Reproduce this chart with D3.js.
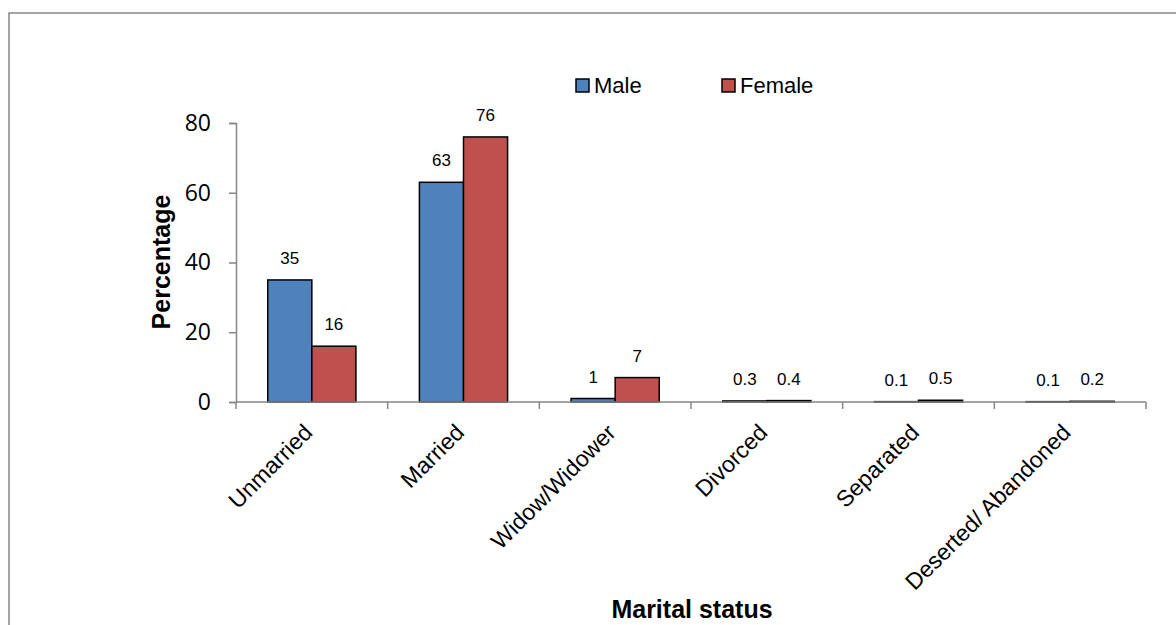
<!DOCTYPE html>
<html>
<head>
<meta charset="utf-8">
<script src="https://cdn.jsdelivr.net/npm/d3@7"></script>
<style>
  html, body { margin: 0; padding: 0; background: #fff; }
  svg { display: block; }
</style>
</head>
<body>
<svg id="chart" width="1176" height="625"></svg>
<script>
// Marital status distribution by sex (percent)
const categories = ["Unmarried", "Married", "Widow/Widower", "Divorced", "Separated", "Deserted/ Abandoned"];
const series = ["Male", "Female"];
const maleValues = [35, 63, 1, 0.3, 0.1, 0.1];
const femaleValues = [16, 76, 7, 0.4, 0.5, 0.2];
const yTicks = [0, 20, 40, 60, 80];
const colors = ["#4F81BD", "#C0504D"];

const svg = d3.select("#chart");
const axisGray = "#868686";

// Outer frame
svg.append("rect")
  .attr("x", 9).attr("y", 13)
  .attr("width", 1200).attr("height", 700)
  .attr("fill", "none")
  .attr("stroke", axisGray)
  .attr("stroke-width", 1.5);

const plot = { left: 236, right: 1146, top: 123, bottom: 402 };

const x0 = d3.scaleBand().domain(categories).range([plot.left, plot.right]).paddingInner(0).paddingOuter(0);
const x1 = d3.scaleBand().domain(series).range([0, x0.bandwidth()]).paddingInner(0).paddingOuter(0.72);
const y = d3.scaleLinear().domain([0, 80]).range([plot.bottom, plot.top]);
const color = d3.scaleOrdinal().domain(series).range(colors);

const rows = categories.map((c, i) => ({
  category: c,
  values: [
    { key: "Male", value: maleValues[i] },
    { key: "Female", value: femaleValues[i] }
  ]
}));

// Bars
const groups = svg.append("g").selectAll("g")
  .data(rows).join("g")
  .attr("transform", d => `translate(${x0(d.category)},0)`);

groups.selectAll("rect")
  .data(d => d.values).join("rect")
  .attr("x", d => x1(d.key))
  .attr("y", d => y(d.value))
  .attr("width", x1.bandwidth())
  .attr("height", d => y(0) - y(d.value))
  .attr("fill", d => color(d.key))
  .attr("stroke", "#000")
  .attr("stroke-width", 1.5);

// Value labels
groups.selectAll("text")
  .data(d => d.values).join("text")
  .attr("x", d => x1(d.key) + x1.bandwidth() / 2)
  .attr("y", d => y(d.value) - 16)
  .attr("text-anchor", "middle")
  .attr("font-family", "'Liberation Sans', Arial, sans-serif")
  .attr("font-size", 17)
  .attr("fill", "#000")
  .text(d => d.value);

// Y axis
const yAxis = svg.append("g")
  .attr("transform", `translate(${plot.left},0)`)
  .call(d3.axisLeft(y).tickValues(yTicks).tickSize(7).tickPadding(18).tickFormat(d3.format("d")));
yAxis.select(".domain").attr("stroke", axisGray).attr("stroke-width", 1.5);
yAxis.selectAll(".tick line").attr("stroke", axisGray).attr("stroke-width", 1.5);
yAxis.selectAll(".tick text")
  .attr("font-family", "'Open Sans', sans-serif")
  .attr("font-size", 23)
  .attr("fill", "#000");

// X axis: baseline with ticks at category boundaries
const boundaries = categories.map(c => x0(c)).concat([x0.range()[1]]);
const xAxis = svg.append("g");
xAxis.append("line")
  .attr("x1", plot.left).attr("x2", plot.right)
  .attr("y1", y(0)).attr("y2", y(0))
  .attr("stroke", axisGray).attr("stroke-width", 1.5);
xAxis.selectAll(".xtick")
  .data(boundaries).join("line")
  .attr("class", "xtick")
  .attr("x1", d => d).attr("x2", d => d)
  .attr("y1", y(0)).attr("y2", y(0) + 7)
  .attr("stroke", axisGray).attr("stroke-width", 1.5);

// Category labels, rotated
xAxis.selectAll(".xlabel")
  .data(categories).join("text")
  .attr("class", "xlabel")
  .attr("transform", d => `translate(${x0(d) + x0.bandwidth() / 2 + 2},434) rotate(-45)`)
  .attr("text-anchor", "end")
  .attr("font-family", "'Liberation Sans', Arial, sans-serif")
  .attr("font-size", 23)
  .attr("fill", "#000")
  .text(d => d);

// Axis titles
svg.append("text")
  .attr("transform", "translate(170,262) rotate(-90)")
  .attr("text-anchor", "middle")
  .attr("font-family", "'Liberation Sans', Arial, sans-serif")
  .attr("font-weight", "bold")
  .attr("font-size", 25)
  .text("Percentage");

svg.append("text")
  .attr("x", 692).attr("y", 618)
  .attr("text-anchor", "middle")
  .attr("font-family", "'Liberation Sans', Arial, sans-serif")
  .attr("font-weight", "bold")
  .attr("font-size", 25)
  .text("Marital status");

// Legend
const legendX = [576, 722];
const legend = svg.append("g").selectAll("g")
  .data(series).join("g")
  .attr("transform", (d, i) => `translate(${legendX[i]},79)`);
legend.append("rect")
  .attr("width", 13).attr("height", 13)
  .attr("fill", d => color(d))
  .attr("stroke", "#000")
  .attr("stroke-width", 1.5);
legend.append("text")
  .attr("x", 18).attr("y", 14)
  .attr("font-family", "'Liberation Sans', Arial, sans-serif")
  .attr("font-size", 22)
  .attr("fill", "#000")
  .text(d => d);
</script>
</body>
</html>
